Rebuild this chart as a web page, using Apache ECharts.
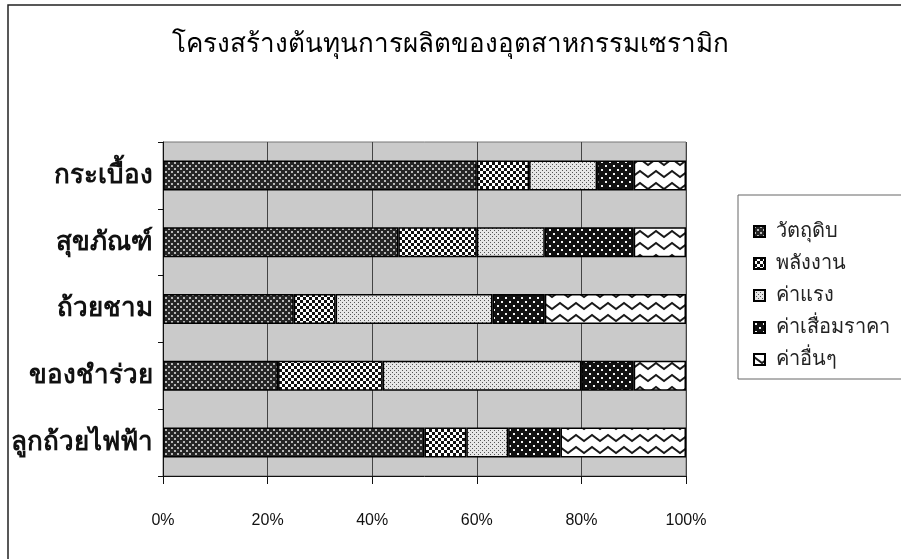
<!DOCTYPE html>
<html>
<head>
<meta charset="utf-8">
<script src="https://cdn.jsdelivr.net/npm/echarts@6/dist/echarts.min.js"></script>
<style>
  html, body { margin: 0; padding: 0; background: #fff; }
  #chart { width: 901px; height: 559px; }
</style>
</head>
<body>
<div id="chart"></div>
<script>
// Cost structure of the ceramics industry, in percent of total cost
const titleText = 'โครงสร้างต้นทุนการผลิตของอุตสาหกรรมเซรามิก';
const categories = ['กระเบื้อง', 'สุขภัณฑ์', 'ถ้วยชาม', 'ของชำร่วย', 'ลูกถ้วยไฟฟ้า'];
const seriesNames = ['วัตถุดิบ', 'พลังงาน', 'ค่าแรง', 'ค่าเสื่อมราคา', 'ค่าอื่นๆ'];
const rawMaterial = [60, 45, 25, 22, 50];
const energy = [10, 15, 8, 20, 8];
const labour = [13, 13, 30, 38, 8];
const depreciation = [7, 17, 10, 10, 10];
const other = [10, 10, 27, 10, 24];
const xTicks = [0, 20, 40, 60, 80, 100];

const thaiFont = '"Noto Sans", "DejaVu Sans", sans-serif';

// Monochrome fill patterns, one per cost component
function makePattern(w, h, draw) {
  const c = document.createElement('canvas');
  c.width = w; c.height = h;
  draw(c.getContext('2d'), w, h);
  return { image: c, repeat: 'repeat' };
}
const fills = [
  makePattern(6, 6, (g) => {
    g.fillStyle = '#262626'; g.fillRect(0, 0, 6, 6);
    g.fillStyle = '#b8b8b8';
    g.fillRect(0, 0, 2, 2); g.fillRect(3, 3, 2, 2);
  }),
  makePattern(6, 6, (g) => {
    g.fillStyle = '#ffffff'; g.fillRect(0, 0, 6, 6);
    g.fillStyle = '#111111';
    g.fillRect(0, 0, 3, 3); g.fillRect(3, 3, 3, 3);
  }),
  makePattern(4, 4, (g) => {
    g.fillStyle = '#e6e6e6'; g.fillRect(0, 0, 4, 4);
    g.fillStyle = '#555555';
    g.fillRect(0, 0, 1, 1); g.fillRect(2, 2, 1, 1);
  }),
  makePattern(8, 8, (g) => {
    g.fillStyle = '#111111'; g.fillRect(0, 0, 8, 8);
    g.fillStyle = '#f4f4f4';
    g.fillRect(1, 1, 2, 2); g.fillRect(5, 5, 2, 2);
  }),
  makePattern(16, 12, (g) => {
    g.fillStyle = '#ffffff'; g.fillRect(0, 0, 16, 12);
    g.strokeStyle = '#1a1a1a'; g.lineWidth = 2;
    g.beginPath();
    g.moveTo(-8, 9); g.lineTo(0, 3); g.lineTo(8, 9); g.lineTo(16, 3); g.lineTo(24, 9);
    g.stroke();
  })
];

const seriesData = [rawMaterial, energy, labour, depreciation, other];

const chart = echarts.init(document.getElementById('chart'));
chart.setOption({
  backgroundColor: '#ffffff',
  animation: false,
  title: {
    text: titleText,
    left: 'center',
    top: 27,
    textStyle: { fontFamily: thaiFont, fontSize: 26, fontWeight: 'normal', color: '#000' }
  },
  legend: {
    orient: 'vertical',
    left: 748,
    top: 216,
    itemWidth: 11,
    itemHeight: 11,
    itemGap: 11,
    icon: 'rect',
    textStyle: { fontFamily: thaiFont, fontSize: 20, color: '#222', lineHeight: 21, padding: [0, 0, 0, 6] },
    data: seriesNames
  },
  grid: {
    left: 163, right: 215, top: 142, bottom: 83,
    show: true,
    backgroundColor: '#cacaca',
    borderColor: '#777',
    borderWidth: 1
  },
  xAxis: {
    type: 'value',
    min: 0, max: 100, interval: 20,
    axisLine: { show: true, lineStyle: { color: '#111', width: 1 } },
    axisTick: { show: true, length: 8, lineStyle: { color: '#111' } },
    axisLabel: {
      margin: 37,
      formatter: (v) => (xTicks.includes(v) ? v + '%' : ''),
      fontFamily: 'Arial, "Liberation Sans", sans-serif',
      fontSize: 16, color: '#111'
    },
    splitLine: { show: true, lineStyle: { color: '#444', width: 1 } }
  },
  yAxis: {
    type: 'category',
    inverse: true,
    data: categories,
    axisLine: { show: true, lineStyle: { color: '#111', width: 1 } },
    axisTick: { show: true, length: 5, lineStyle: { color: '#111' } },
    axisLabel: {
      margin: 10,
      fontFamily: thaiFont,
      fontSize: 26, fontWeight: 'bold', color: '#111'
    }
  },
  series: seriesNames.map((name, i) => ({
    name: name,
    type: 'bar',
    stack: 'total',
    barWidth: 30,
    data: seriesData[i],
    itemStyle: { color: fills[i], borderColor: '#000', borderWidth: 1.5 },
    emphasis: { disabled: true }
  })),
  graphic: [
    {
      type: 'rect',
      shape: { x: 8, y: 5, width: 900, height: 560 },
      style: { fill: 'none', stroke: '#222', lineWidth: 1.5 },
      silent: true
    },
    {
      type: 'rect',
      shape: { x: 738, y: 195, width: 170, height: 184 },
      style: { fill: 'none', stroke: '#666', lineWidth: 1 },
      silent: true
    }
  ]
});
</script>
</body>
</html>
